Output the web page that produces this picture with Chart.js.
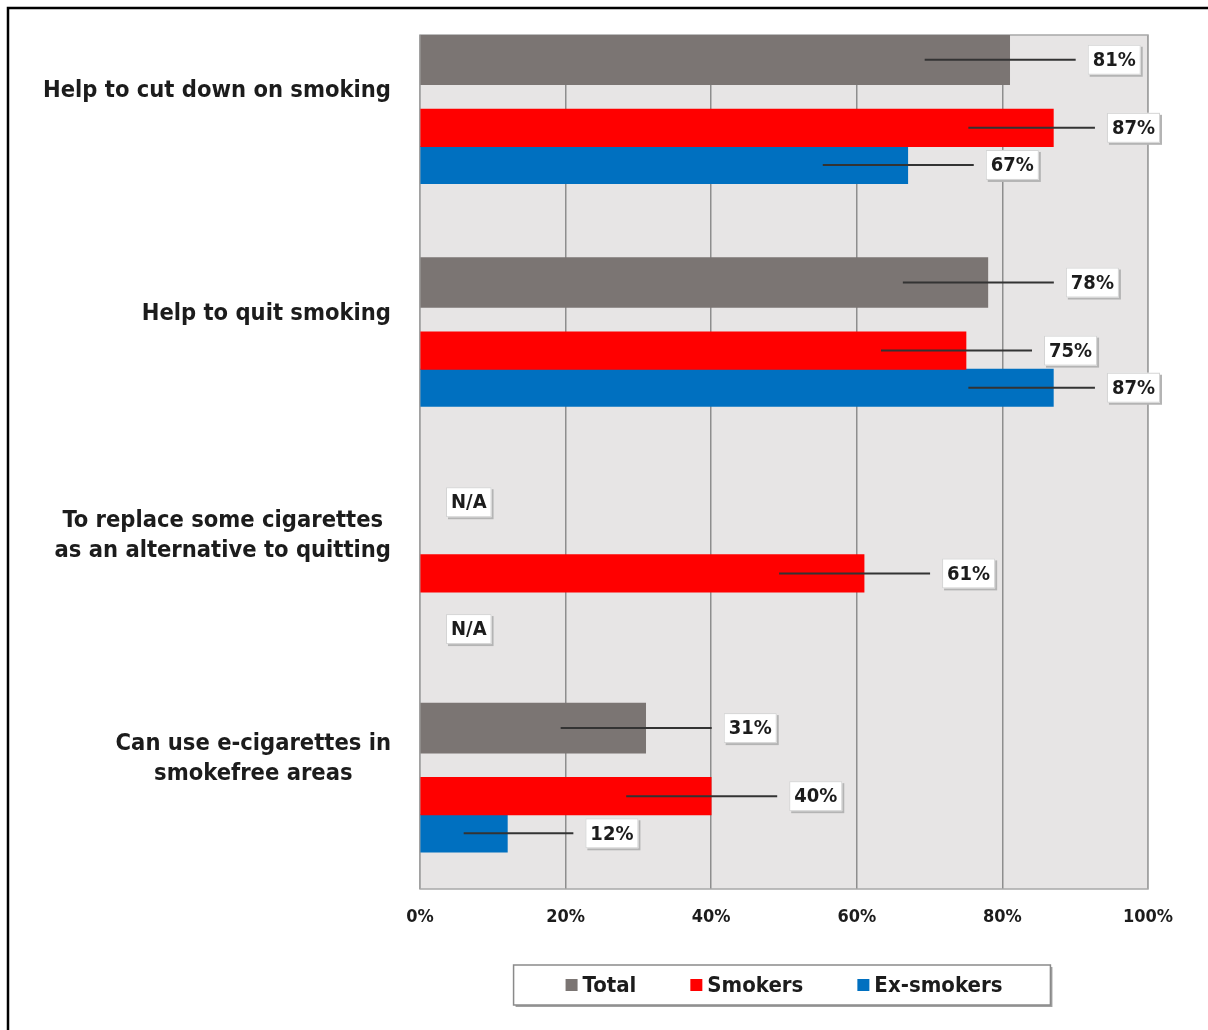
<!DOCTYPE html>
<html>
<head>
<meta charset="utf-8">
<script src="https://cdn.jsdelivr.net/npm/chart.js@4.4.1/dist/chart.umd.min.js"></script>
<style>
  html, body { margin: 0; padding: 0; background: #fff; overflow: hidden; }
  #wrap { width: 1208px; height: 1030px; position: relative; }
</style>
</head>
<body>
<div id="wrap"><canvas id="chart"></canvas></div>
<script>
const categories = [
  ['Help to cut down on smoking'],
  ['Help to quit smoking'],
  ['To replace some cigarettes', 'as an alternative to quitting'],
  ['Can use e-cigarettes in', 'smokefree areas']
];
const seriesNames = ['Total', 'Smokers', 'Ex-smokers'];
const totalValues = [81, 78, null, 31];
const smokerValues = [87, 75, 61, 40];
const exSmokerValues = [67, 87, null, 12];
const xTickValues = [0, 20, 40, 60, 80, 100];

const colors = ['#7b7573', '#ff0000', '#0070c0'];
const thickness = [50, 37.5, 37.5];
const FONT = "'DejaVu Sans Condensed', 'DejaVu Sans', sans-serif";

// hidden y axis made of thin slots, every bar sits on a fixed slot of its group
const PER_GROUP = 72;
const barSlot = [8, 30, 42];
const naShift = [-1, 0, 6];
const labelSlot = 18;
const slotCount = PER_GROUP * 3 + 61;

const slotLabels = [];
for (let i = 0; i < slotCount; i++) slotLabels.push(String(i));

function toSlots(values, s) {
  const out = new Array(slotCount).fill(null);
  values.forEach((v, g) => { if (v !== null) out[g * PER_GROUP + barSlot[s]] = v; });
  return out;
}

const allSeries = [totalValues, smokerValues, exSmokerValues];

function drawBox(ctx, text, left, cy) {
  ctx.font = 'bold 20px ' + FONT;
  const w = ctx.measureText(text).width + 10, h = 30;
  const top = cy - h / 2;
  ctx.fillStyle = '#b4b4b4';
  ctx.fillRect(left + 2, top + 2, w, h);
  ctx.fillStyle = '#fff';
  ctx.fillRect(left, top, w, h);
  ctx.strokeStyle = '#d4d4d4';
  ctx.lineWidth = 1;
  ctx.strokeRect(left + 0.5, top + 0.5, w - 1, h - 1);
  ctx.fillStyle = '#1c1c1c';
  ctx.textAlign = 'center';
  ctx.textBaseline = 'middle';
  ctx.fillText(text, left + w / 2, cy + 1);
  return w;
}

const decor = {
  id: 'decor',
  beforeDraw(chart) {
    const { ctx, chartArea: a } = chart;
    ctx.save();
    ctx.fillStyle = '#fff';
    ctx.fillRect(0, 0, chart.width, chart.height);
    ctx.strokeStyle = '#000';
    ctx.lineWidth = 2.5;
    ctx.strokeRect(8, 8, chart.width + 20, chart.height + 20);
    ctx.fillStyle = '#e7e5e5';
    ctx.fillRect(a.left, a.top, a.right - a.left, a.bottom - a.top);
    ctx.restore();
  },
  beforeDatasetsDraw(chart) {
    const { ctx, chartArea: a } = chart;
    ctx.save();
    ctx.strokeStyle = '#a8a8a8';
    ctx.lineWidth = 1.5;
    ctx.strokeRect(a.left, a.top, a.right - a.left, a.bottom - a.top);
    ctx.restore();
  },
  afterDatasetsDraw(chart) {
    const { ctx, chartArea: a } = chart;
    const xs = chart.scales.x, ys = chart.scales.y;
    ctx.save();
    allSeries.forEach((vals, s) => vals.forEach((v, g) => {
      const slot = g * PER_GROUP + barSlot[s];
      const start = xs.getPixelForValue(0);
      if (v === null) {
        drawBox(ctx, 'N/A', start + 26, ys.getPixelForValue(slot + naShift[s]));
        return;
      }
      const y = ys.getPixelForValue(slot);
      const end = xs.getPixelForValue(v);
      const text = v + '%';
      ctx.font = 'bold 20px ' + FONT;
      const w = ctx.measureText(text).width + 10;
      const boxL = Math.min(end + 78, a.right + 12 - w);
      const lineStart = end - Math.min(85, (end - start) * 0.5);
      ctx.strokeStyle = '#333';
      ctx.lineWidth = 2;
      ctx.beginPath();
      ctx.moveTo(lineStart, y);
      ctx.lineTo(boxL - 12, y);
      ctx.stroke();
      drawBox(ctx, text, boxL, y);
    }));
    ctx.restore();
  },
  afterDraw(chart) {
    const { ctx, chartArea: a } = chart;
    const ys = chart.scales.y;
    ctx.save();
    // category labels, each block right aligned, lines centred inside it
    ctx.font = 'bold 23.5px ' + FONT;
    ctx.fillStyle = '#1c1c1c';
    ctx.textAlign = 'center';
    ctx.textBaseline = 'middle';
    categories.forEach((lines, g) => {
      const cy = ys.getPixelForValue(g * PER_GROUP + labelSlot);
      const maxW = Math.max(...lines.map(l => ctx.measureText(l).width));
      const cx = 391 - maxW / 2;
      lines.forEach((l, i) => {
        ctx.fillText(l, cx, cy + (i - (lines.length - 1) / 2) * 30);
      });
    });

    // legend
    ctx.font = 'bold 22px ' + FONT;
    const sq = 12, gapText = 5, gapItem = 54;
    const widths = seriesNames.map(n => sq + gapText + ctx.measureText(n).width);
    const total = widths.reduce((p, c) => p + c, 0) + gapItem * (seriesNames.length - 1);
    const cx = (a.left + a.right) / 2;
    const ly = 985;
    let x = cx - total / 2;
    const boxL = x - 52, boxW = total + 100;
    ctx.fillStyle = '#a0a0a0';
    ctx.fillRect(boxL + 2, 965 + 2, boxW, 40);
    ctx.fillStyle = '#fff';
    ctx.fillRect(boxL, 965, boxW, 40);
    ctx.strokeStyle = '#8a8a8a';
    ctx.lineWidth = 1.5;
    ctx.strokeRect(boxL, 965, boxW, 40);
    ctx.textAlign = 'left';
    seriesNames.forEach((n, i) => {
      ctx.fillStyle = colors[i];
      ctx.fillRect(x, ly - sq / 2, sq, sq);
      ctx.fillStyle = '#1c1c1c';
      ctx.fillText(n, x + sq + gapText, ly + 1);
      x += widths[i] + gapItem;
    });
    ctx.restore();
  }
};

new Chart(document.getElementById('chart'), {
  type: 'bar',
  data: {
    labels: slotLabels,
    datasets: seriesNames.map((name, s) => ({
      label: name,
      data: toSlots(allSeries[s], s),
      backgroundColor: colors[s],
      borderWidth: 0,
      barThickness: thickness[s],
      grouped: false
    }))
  },
  options: {
    indexAxis: 'y',
    responsive: true,
    maintainAspectRatio: false,
    animation: false,
    layout: { padding: { left: 420, right: 60, top: 35, bottom: 0 } },
    plugins: { legend: { display: false }, tooltip: { enabled: false } },
    scales: {
      y: {
        type: 'category',
        display: false,
        offset: false,
        grid: { display: false }
      },
      x: {
        min: 0,
        max: 100,
        afterBuildTicks: s => { s.ticks = xTickValues.map(v => ({ value: v })); },
        afterFit: s => { s.height = 141; },
        grid: { color: '#8e8e8e', lineWidth: 1.5, drawTicks: false },
        border: { display: false },
        ticks: {
          padding: 18,
          color: '#1c1c1c',
          font: { family: FONT, size: 18, weight: 'bold' },
          callback: v => v + '%'
        }
      }
    }
  },
  plugins: [decor]
});
</script>
</body>
</html>
